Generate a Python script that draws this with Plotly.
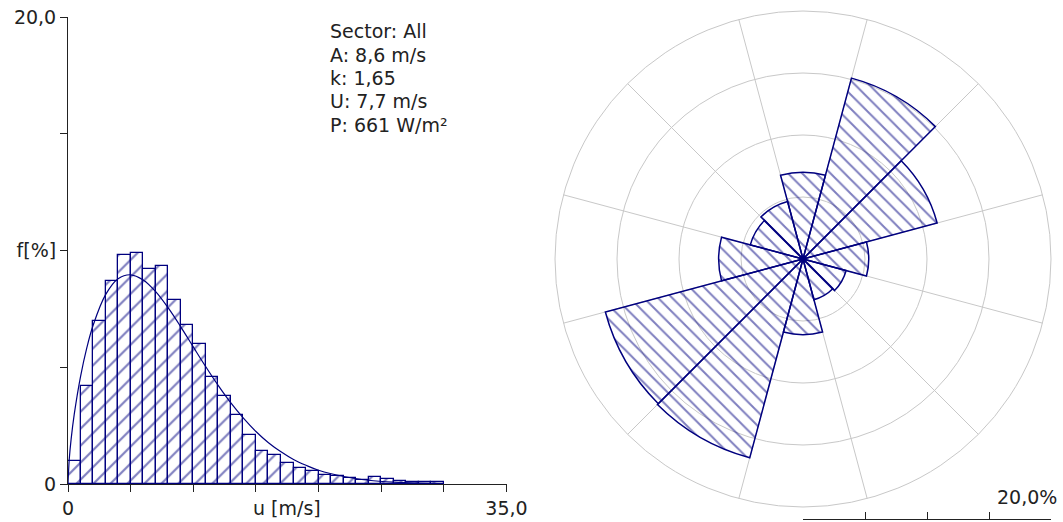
import plotly.graph_objects as go

# ---------------- data ----------------
# Histogram: frequency [%] per 1 m/s wind-speed bin (bin left edges)
bin_left = list(range(0, 30))
bin_freq = [1.0, 4.2, 7.0, 8.7, 9.8, 9.9, 9.2, 9.35, 7.9, 6.8,
            6.0, 4.6, 3.75, 2.95, 2.1, 1.4, 1.24, 0.9, 0.67, 0.56,
            0.39, 0.36, 0.24, 0.17, 0.29, 0.2, 0.12, 0.08, 0.07, 0.07]

# Fitted distribution curve
curve_u = [0, 0.1, 0.25, 0.5, 1, 1.5, 2, 3, 4, 5, 6, 7, 8, 9, 10, 11, 12, 13,
           14, 15, 16, 17, 18, 19, 20, 22, 24, 26, 28, 30]
curve_f = [0, 1.06, 1.92, 2.99, 4.60, 5.83, 6.79, 8.11, 8.79, 8.96, 8.74, 8.24,
           7.54, 6.73, 5.87, 5.02, 4.21, 3.47, 2.82, 2.25, 1.77, 1.38, 1.05,
           0.80, 0.59, 0.32, 0.16, 0.08, 0.04, 0.02]

y_tickvals = [0, 5, 10, 15, 20]
y_ticktext = ["0", "", "f[%]", "", "20,0"]
x_tickvals = [0, 5, 10, 15, 20, 25, 30, 35]
x_ticktext = ["0", "", "", "", "", "", "", "35,0"]
x_title = "u [m/s]"

stats_lines = ["Sector: All", "A: 8,6 m/s", "k: 1,65", "U: 7,7 m/s", "P: 661 W/m²"]

# Wind rose: 12 sectors, frequency [%]
sector_dir = [0, 30, 60, 90, 120, 150, 180, 210, 240, 270, 300, 330]
sector_freq = [7.0, 15.1, 11.2, 5.3, 3.6, 3.4, 6.1, 16.6, 16.5, 6.8, 4.4, 4.8]
sector_width = 30
rose_grid_r = [5, 10, 15, 20]
rose_grid_theta = [15, 45, 75, 105, 135, 165, 195, 225, 255, 285, 315, 345]
rose_max = 20
scale_label = "20,0%"

# ---------------- style ----------------
W, H = 1063, 522
NAVY = "#00007f"
TXT = "#222222"
GRID = "#c8c8c8"
FONT = "DejaVu Sans"
FS = 19

def px_x(p):
    return p / W

def px_y(p):
    return 1 - p / H

fig = go.Figure()

fig.add_trace(go.Bar(
    x=[b + 0.5 for b in bin_left], y=bin_freq, width=1,
    marker=dict(color="rgba(255,255,255,0)",
                line=dict(color=NAVY, width=1.3),
                pattern=dict(shape="/", fgcolor=NAVY, size=12, solidity=0.18)),
    xaxis="x", yaxis="y", showlegend=False, hoverinfo="skip"))

fig.add_trace(go.Scatter(
    x=curve_u, y=curve_f, mode="lines",
    line=dict(color=NAVY, width=1.2, shape="spline"),
    xaxis="x", yaxis="y", showlegend=False, hoverinfo="skip"))

fig.add_trace(go.Barpolar(
    r=sector_freq, theta=sector_dir, width=[sector_width] * len(sector_dir),
    marker=dict(color="rgba(255,255,255,0)",
                line=dict(color=NAVY, width=1.5),
                pattern=dict(shape="\\", fgcolor=NAVY, size=10, solidity=0.2)),
    showlegend=False, hoverinfo="skip"))

# invisible trace for the scale bar axis
fig.add_trace(go.Scatter(x=[0, rose_max], y=[0, 0], mode="markers",
                         marker=dict(opacity=0), xaxis="x3", yaxis="y3",
                         showlegend=False, hoverinfo="skip"))

axis_common = dict(showgrid=False, zeroline=False, showline=True,
                   linecolor=TXT, linewidth=1, ticks="outside", ticklen=7,
                   tickcolor=TXT, tickwidth=1, automargin=False,
                   tickfont=dict(family=FONT, size=FS, color=TXT))

fig.update_layout(
    width=W, height=H,
    margin=dict(l=0, r=0, t=0, b=0, pad=0),
    paper_bgcolor="white", plot_bgcolor="white",
    bargap=0,
    xaxis=dict(domain=[px_x(68), px_x(506.5)], range=[0, 35],
               tickmode="array", tickvals=x_tickvals, ticktext=x_ticktext,
               anchor="y", **axis_common),
    yaxis=dict(domain=[px_y(484), px_y(17)], range=[0, 20],
               tickmode="array", tickvals=y_tickvals, ticktext=y_ticktext,
               anchor="x", **axis_common),
    xaxis3=dict(domain=[px_x(803), px_x(1051)], range=[0, rose_max],
                anchor="y3", showgrid=False, zeroline=False, showline=True,
                linecolor=TXT, linewidth=1, ticks="inside", ticklen=7,
                tickcolor=TXT, tickmode="array", automargin=False,
                tickvals=[0] + rose_grid_r, showticklabels=False),
    yaxis3=dict(domain=[px_y(519), px_y(505)], range=[0, 1], visible=False,
                anchor="x3", automargin=False),
    polar=dict(
        domain=dict(x=[px_x(555), px_x(1051)], y=[px_y(507), px_y(11)]),
        bgcolor="rgba(0,0,0,0)",
        radialaxis=dict(range=[0, rose_max], tickvals=rose_grid_r,
                        showticklabels=False, ticks="", showline=False,
                        gridcolor=GRID, gridwidth=1),
        angularaxis=dict(direction="clockwise", rotation=90,
                         tickmode="array", tickvals=rose_grid_theta,
                         showticklabels=False, ticks="",
                         showline=True, linecolor=GRID, linewidth=1,
                         gridcolor=GRID, gridwidth=1),
    ),
)

annotations = []
annotations.append(dict(x=17.5, xref="x", y=px_y(508), yref="paper",
                        text=x_title, showarrow=False, xanchor="center",
                        yanchor="middle",
                        font=dict(family=FONT, size=FS, color=TXT)))
line_y = [31.5, 54.8, 78, 101.3, 124.6]
for txt, yy in zip(stats_lines, line_y):
    annotations.append(dict(x=px_x(328), xref="paper", y=px_y(yy), yref="paper",
                            text=txt, showarrow=False, xanchor="left",
                            yanchor="middle",
                            font=dict(family=FONT, size=FS, color=TXT)))
annotations.append(dict(x=px_x(1059), xref="paper", y=px_y(497), yref="paper",
                        text=scale_label, showarrow=False, xanchor="right",
                        yanchor="middle",
                        font=dict(family=FONT, size=FS, color=TXT)))
fig.update_layout(annotations=annotations)

fig.write_html("out.html",
               config={"displayModeBar": False},
               post_script="document.body.style.margin='0';"
                           "document.body.style.overflow='hidden';")
